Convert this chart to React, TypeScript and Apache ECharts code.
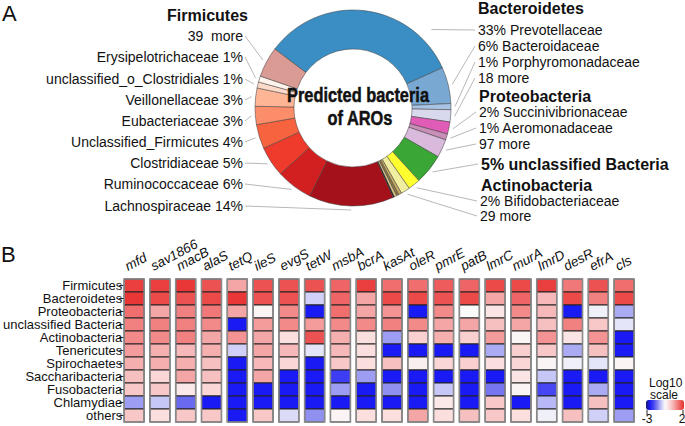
import React, { useEffect, useRef } from "react";
import * as echarts from "echarts";

const FONT = '"Liberation Sans", Arial, Helvetica, sans-serif';

// ---------- Panel A: predicted bacteria (families) ----------
const familyNames = [
  "Prevotellaceae", "Bacteroidaceae", "Porphyromonadaceae", "Bacteroidetes (18 more)",
  "Succinivibrionaceae", "Aeromonadaceae", "Proteobacteria (97 more)",
  "unclassified Bacteria",
  "Bifidobacteriaceae", "Actinobacteria (29 more)",
  "minor phylum a", "minor phylum b", "minor phylum c", "minor phylum d",
  "Lachnospiraceae", "Ruminococcaceae", "Clostridiaceae", "Unclassified_Firmicutes",
  "Eubacteriaceae", "Veillonellaceae", "unclassified_o_Clostridiales", "Erysipelotrichaceae",
  "Firmicutes (39 more)",
];
const familyShares = [33, 6, 1, 2, 2, 1, 3, 5, 2, 1.5, 0.5, 0.4, 0.4, 0.2, 14, 6, 5, 4, 3, 3, 1, 1, 5];
const familyLabels = [
  "33% Prevotellaceae", "6% Bacteroidaceae", "1% Porphyromonadaceae", "18 more",
  "2% Succinivibrionaceae", "1% Aeromonadaceae", "97 more",
  "5% unclassified Bacteria",
  "2% Bifidobacteriaceae", "29 more",
  "", "", "", "",
  "Lachnospiraceae 14%", "Ruminococcaceae 6%", "Clostridiaceae 5%", "Unclassified_Firmicutes 4%",
  "Eubacteriaceae 3%", "Veillonellaceae 3%", "unclassified_o_Clostridiales 1%", "Erysipelotrichaceae 1%",
  "39  more",
];
const phylumHeaders = ["Firmicutes", "Bacteroidetes", "Proteobacteria", "Actinobacteria"];
const pieTitle = ["Predicted bacteria", "of AROs"];

// ---------- Panel B: heatmap (log10 scale) ----------
const genes = ["mfd", "sav1866", "macB", "alaS", "tetQ", "ileS", "evgS", "tetW", "msbA", "bcrA", "kasAt", "oleR", "pmrE", "patB", "lmrC", "murA", "lmrD", "desR", "efrA", "cls"];
const phyla = ["Firmicutes", "Bacteroidetes", "Proteobacteria", "unclassified Bacteria", "Actinobacteria", "Tenericutes", "Spirochaetes", "Saccharibacteria", "Fusobacteria", "Chlamydiae", "others"];
const firmicutes = [1.8, 1.8, 1.9, 1.6, 0.7, 1.6, 1.6, 1.6, 1.4, 1.8, 1.3, 1.3, 1.5, 1.4, 1.7, 1.7, 1.8, 1.2, 1.6, 1.3];
const bacteroidetes = [1.9, 1.7, 1.6, 1.7, 1.9, 1.6, 1.6, -0.9, 1.4, 0.7, 1.7, 1.7, 1.6, 1.7, 0.7, 1.4, 0.5, 1.7, 1.1, 1.7];
const proteobacteria = [1.3, 0.7, 1.1, 1.2, 0.7, -0.4, 1.0, -2.5, 1.3, 0.7, 0.9, -2.5, 1.0, -0.5, -0.1, 1.0, 0.5, -2.5, -0.6, -1.2];
const unclassifiedBacteria = [1.1, 1.1, 1.1, 1.0, -2.5, 0.8, 1.0, 0.8, 1.0, 1.0, 1.1, 1.0, 0.7, 0.7, 0.4, 0.7, 0.4, 1.1, 0.3, -0.7];
const actinobacteria = [1.0, 1.0, 1.1, 0.7, 0.9, 0.7, 0.0, 1.6, 0.6, 0.0, -1.3, 0.2, 0.6, 0.2, 0.8, -0.4, 0.9, -0.1, 0.9, -2.5];
const tenericutes = [0.8, 0.6, 0.5, 0.6, -0.9, 0.7, 0.5, -0.7, 0.5, 0.0, -2.5, -2.5, -2.5, -2.5, -1.2, 0.2, 0.3, -1.2, 0.4, -2.5];
const spirochaetes = [0.6, 0.6, 0.6, 0.4, -2.5, 0.5, 0.1, -2.5, 0.3, 0.0, 0.4, -0.3, 0.1, 0.2, 0.0, 0.1, -0.4, -0.6, -0.7, -0.4];
const saccharibacteria = [0.4, 0.1, 0.7, 0.4, -2.5, 0.7, -2.5, -2.5, -2.1, -1.3, -2.5, -2.5, -2.5, -2.5, -2.5, -0.1, -1.0, -2.5, -2.5, -2.5];
const fusobacteria = [0.3, 0.3, -0.2, 0.1, -2.5, -2.5, -2.5, -2.5, -1.3, -2.5, -1.4, -2.5, -1.0, -2.5, -1.6, -0.4, -2.0, -2.5, -1.2, -2.5];
const chlamydiae = [-1.3, -1.0, -1.7, -2.5, -2.5, -2.5, -2.5, -2.5, -2.5, -2.5, -2.5, -2.5, -0.2, -2.5, 0.3, -2.5, -1.1, -2.5, 0.4, -2.5];
const others = [0.3, 0.0, 0.3, 0.3, -2.5, 0.3, -0.8, -1.4, -0.4, 0.0, 0.0, 0.7, 0.0, 0.4, 0.3, 0.0, -0.6, 0.4, -0.9, -1.3];
const heatRows = [firmicutes, bacteroidetes, proteobacteria, unclassifiedBacteria, actinobacteria, tenericutes, spirochaetes, saccharibacteria, fusobacteria, chlamydiae, others];
const scaleMin = -3;
const scaleMax = 2;
const legendTitle = ["Log10", "scale"];

// ---------- styles / layout ----------
const pieColors = [
  "#3a8ec3", "#79a9d3", "#a8c3e3", "#d9d9ee",
  "#e05cb6", "#c98fb8", "#d9badc",
  "#3aa636",
  "#ffff30", "#f2eea0",
  "#c9ad66", "#8e7a42", "#ddc98c", "#151515",
  "#a5111a", "#d21f1f", "#ee3b2b", "#f8633f",
  "#fc8d6a", "#fdb596", "#fdd9c9", "#fff3ee",
  "#d99b94",
];
const heatColors = ["#151570", "#1a1af5", "#4646f2", "#8282f0", "#c6c6f7", "#fafafa", "#fbdede", "#f6b8b8", "#f28a8a", "#ee5c5c", "#e82c2c"];

const PIE_CX = 353;
const PIE_CY = 108;
const PIE_START = 143;
type Spot = { side: "l" | "r"; y: number; x?: number; attach?: [number, number] } | null;
const labelSpots: Spot[] = [
  { side: "r", y: 30, attach: [45, 111] },
  { side: "r", y: 46 },
  { side: "r", y: 62 },
  { side: "r", y: 78 },
  { side: "r", y: 112, x: 479 },
  { side: "r", y: 128, x: 479 },
  { side: "r", y: 144, x: 479 },
  { side: "r", y: 164, x: 481 },
  { side: "r", y: 201, x: 480 },
  { side: "r", y: 216, x: 480 },
  null, null, null, null,
  { side: "l", y: 206 },
  { side: "l", y: 184 },
  { side: "l", y: 163 },
  { side: "l", y: 142 },
  { side: "l", y: 121 },
  { side: "l", y: 100 },
  { side: "l", y: 79 },
  { side: "l", y: 57 },
  { side: "l", y: 36 },
];

function midClockAngle(i: number): number {
  const total = familyShares.reduce((a, b) => a + b, 0);
  let c = 0;
  for (let k = 0; k < i; k++) c += familyShares[k];
  c += familyShares[i] / 2;
  return 90 - PIE_START + (c / total) * 360;
}
function polar(angleDeg: number, r: number): [number, number] {
  const a = (angleDeg * Math.PI) / 180;
  return [PIE_CX + r * Math.sin(a), PIE_CY - r * Math.cos(a)];
}

export default function App() {
  const ref = useRef<HTMLDivElement>(null);
  useEffect(() => {
    if (!ref.current) return;
    const chart = echarts.init(ref.current, undefined, { renderer: "svg" });

    const heatData: number[][] = [];
    heatRows.forEach((row, r) => row.forEach((v, c) => heatData.push([c, r, v])));

    const pieData = familyNames.map((n, i) => {
      const has = !!familyLabels[i];
      const bold = n === "unclassified Bacteria";
      return {
        name: n,
        value: familyShares[i],
        itemStyle: { color: pieColors[i] },
        label: has
          ? { show: true, fontWeight: bold ? "bold" : "normal", fontSize: bold ? 16 : 14 }
          : { show: false },
        labelLine: { show: has },
      };
    });

    const option: any = {
      animation: false,
      backgroundColor: "#ffffff",
      textStyle: { fontFamily: FONT },
      grid: [
        { left: 121, top: 279, width: 516, height: 143 },
        { left: 113, top: 279, width: 516, height: 143 },
      ],
      xAxis: [
        { type: "category", gridIndex: 0, data: genes, position: "top", show: false },
        {
          type: "category", gridIndex: 1, data: genes, position: "top",
          axisLine: { show: false }, axisTick: { show: false },
          axisLabel: {
            rotate: -28, align: "left", verticalAlign: "middle", fontStyle: "italic",
            fontSize: 13.5, color: "#111", margin: 12, fontFamily: FONT, interval: 0,
          },
        },
      ],
      yAxis: [
        {
          type: "category", gridIndex: 0, data: phyla, inverse: true, offset: -3,
          axisLine: { show: false },
          axisTick: { show: true, length: 5, alignWithLabel: true, lineStyle: { color: "#222", width: 1 } },
          axisLabel: { fontSize: 13, lineHeight: 12, color: "#111", margin: 2, fontFamily: FONT, interval: 0 },
        },
        { type: "category", gridIndex: 1, data: phyla, inverse: true, show: false },
      ],
      visualMap: {
        type: "continuous", min: scaleMin, max: scaleMax, dimension: 2, seriesIndex: 0,
        orient: "horizontal", left: 646, top: 400, itemWidth: 10, itemHeight: 38,
        padding: 0, calculable: false, hoverLink: false,
        inRange: { color: heatColors },
      },
      series: [
        {
          type: "custom", xAxisIndex: 0, yAxisIndex: 0, data: heatData,
          encode: { x: 0, y: 1 },
          renderItem: (params: any, api: any) => {
            const c = api.coord([api.value(0), api.value(1)]);
            const s = api.size([1, 1]);
            const w = s[0] * 0.775;
            const h = s[1];
            return {
              type: "rect",
              shape: { x: c[0] - w / 2, y: c[1] - h / 2, width: w, height: h },
              style: { fill: api.visual("color"), stroke: "#222", lineWidth: 1 },
            };
          },
        },
        {
          type: "custom", xAxisIndex: 0, yAxisIndex: 0, z: 3,
          data: genes.map((g, i) => [i, 0]),
          renderItem: (params: any, api: any) => {
            const c0 = api.coord([api.value(0), 0]);
            const c1 = api.coord([api.value(0), phyla.length - 1]);
            const s = api.size([1, 1]);
            const w = s[0] * 0.775;
            const h = s[1];
            return {
              type: "rect",
              shape: { x: c0[0] - w / 2, y: c0[1] - h / 2, width: w, height: c1[1] - c0[1] + h },
              style: { fill: "none", stroke: "#8a8a8a", lineWidth: 1.6 },
            };
          },
        },
        {
          type: "pie",
          center: [PIE_CX, PIE_CY],
          radius: [59, 98],
          startAngle: PIE_START,
          clockwise: true,
          avoidLabelOverlap: false,
          itemStyle: { borderColor: "#3a3a3a", borderWidth: 0.5 },
          emphasis: { disabled: true },
          data: pieData,
          label: {
            formatter: (p: any) => familyLabels[p.dataIndex],
            fontFamily: FONT, fontSize: 14, color: "#111", overflow: "none",
          },
          labelLine: { length: 5, length2: 5, lineStyle: { color: "#b8b8b8", width: 1 } },
          labelLayout: (p: any) => {
            const spot = labelSpots[p.dataIndex];
            if (!spot) return {};
            const start = spot.attach ? polar(spot.attach[0], spot.attach[1]) : polar(midClockAngle(p.dataIndex), 102);
            if (spot.side === "l") {
              const x = spot.x ?? 243;
              return { x, y: spot.y, align: "right", verticalAlign: "middle", labelLinePoints: [start, [x + 2, spot.y]] };
            }
            const x = spot.x ?? 478;
            return { x, y: spot.y, align: "left", verticalAlign: "middle", labelLinePoints: [start, [x - 3, spot.y]] };
          },
        },
      ],
      graphic: [
        { type: "text", left: 2, top: 2, style: { text: "A", font: `22px ${FONT}`, fill: "#111" } },
        { type: "text", left: 1, top: 243, style: { text: "B", font: `22px ${FONT}`, fill: "#111" } },
        { type: "text", x: 248, y: 15, style: { text: phylumHeaders[0], font: `bold 16px ${FONT}`, fill: "#111", align: "right", verticalAlign: "middle" } },
        { type: "text", x: 478, y: 8, style: { text: phylumHeaders[1], font: `bold 16px ${FONT}`, fill: "#111", align: "left", verticalAlign: "middle" } },
        { type: "text", x: 479, y: 96, style: { text: phylumHeaders[2], font: `bold 16px ${FONT}`, fill: "#111", align: "left", verticalAlign: "middle" } },
        { type: "text", x: 481, y: 185, style: { text: phylumHeaders[3], font: `bold 16px ${FONT}`, fill: "#111", align: "left", verticalAlign: "middle" } },
        { type: "text", x: 358, y: 95, scaleX: 0.78, z: 10, style: { text: pieTitle[0], font: `bold 21px ${FONT}`, fill: "#111", stroke: "#111", lineWidth: 0.5, align: "center", verticalAlign: "middle" } },
        { type: "text", x: 360, y: 118, scaleX: 0.78, z: 10, style: { text: pieTitle[1], font: `bold 21px ${FONT}`, fill: "#111", stroke: "#111", lineWidth: 0.5, align: "center", verticalAlign: "middle" } },
        { type: "text", x: 649, y: 383, style: { text: legendTitle[0], font: `12px ${FONT}`, lineHeight: 11, fill: "#111", align: "left", verticalAlign: "middle" } },
        { type: "text", x: 650, y: 395, style: { text: legendTitle[1], font: `12px ${FONT}`, lineHeight: 11, fill: "#111", align: "left", verticalAlign: "middle" } },
        { type: "line", shape: { x1: 647, y1: 410, x2: 647, y2: 415 }, style: { stroke: "#222", lineWidth: 1 } },
        { type: "line", shape: { x1: 683, y1: 410, x2: 683, y2: 415 }, style: { stroke: "#222", lineWidth: 1 } },
        { type: "text", x: 647, y: 419, style: { text: String(scaleMin), font: `12px ${FONT}`, lineHeight: 12, fill: "#111", align: "center", verticalAlign: "middle" } },
        { type: "text", x: 682, y: 419, style: { text: String(scaleMax), font: `12px ${FONT}`, lineHeight: 12, fill: "#111", align: "center", verticalAlign: "middle" } },
      ],
    };
    chart.setOption(option);
    return () => chart.dispose();
  }, []);
  return <div ref={ref} style={{ position: "absolute", left: 0, top: 0, width: 685, height: 426 }} />;
}
